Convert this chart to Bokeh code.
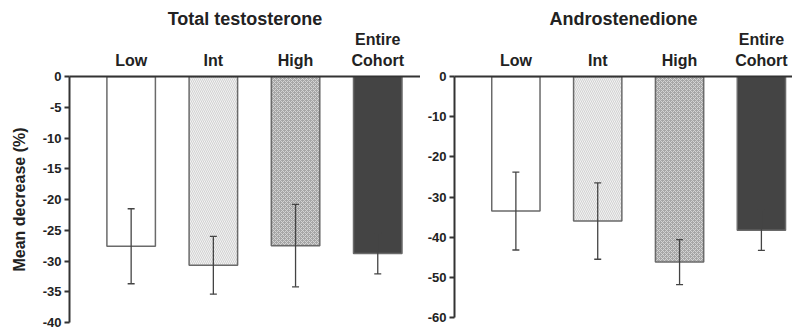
from bokeh.plotting import figure
from bokeh.models import Range1d, FixedTicker, ColumnDataSource, Whisker, TeeHead
from bokeh.layouts import row
from bokeh.embed import file_html
from bokeh.resources import INLINE

groups = ["Low", "Int", "High", "Entire\nCohort"]
testo_mean = [-27.6, -30.7, -27.5, -28.8]
testo_err = [6.1, 4.7, 6.7, 3.3]
andro_mean = [-33.5, -36.0, -46.2, -38.3]
andro_err = [9.7, 9.5, 5.6, 5.0]
testo_ticks = [0, -5, -10, -15, -20, -25, -30, -35, -40]
andro_ticks = [0, -10, -20, -30, -40, -50, -60]

fills = ["#ffffff", "#d2d2d2", "#a6a6a6", "#444444"]
hatches = [" ", "\\", "x", " "]
hatch_colors = ["#ffffff", "#f2f2f2", "#d4d4d4", "#444444"]

FONT = "Liberation Sans"


def panel(title, means, errs, yr, ticks, width, height, border_left, x_end):
    p = figure(width=width, height=height, output_backend="svg", toolbar_location=None,
               x_range=Range1d(-0.75, x_end), y_range=Range1d(yr, 0),
               x_axis_location="above", min_border_left=border_left, min_border_right=0,
               min_border_top=76, min_border_bottom=7)
    p.title.text = title
    p.title.align = "center"
    p.title.text_font = FONT
    p.title.text_font_size = "18px"
    p.title.text_font_style = "bold"
    p.title.text_color = "#222222"
    p.title.standoff = 0
    p.outline_line_color = None
    p.grid.visible = False
    xs = list(range(len(groups)))
    src = ColumnDataSource(dict(x=xs, top=[0] * len(xs), bottom=means,
                                fill=fills, hatch=hatches, hc=hatch_colors,
                                upper=[m + e for m, e in zip(means, errs)],
                                lower=[m - e for m, e in zip(means, errs)]))
    p.vbar(x="x", top="top", bottom="bottom", width=0.59, source=src,
           fill_color="fill", line_color="#6a6a6a", line_width=1.5,
           hatch_pattern="hatch", hatch_color="hc", hatch_scale=4, hatch_weight=1)
    w = Whisker(base="x", upper="upper", lower="lower", source=src,
                line_color="#444444", line_width=1.3, level="overlay",
                upper_head=TeeHead(size=7, line_color="#444444", line_width=1.3),
                lower_head=TeeHead(size=7, line_color="#444444", line_width=1.3))
    p.add_layout(w)
    xa = p.xaxis[0]
    xa.ticker = FixedTicker(ticks=xs)
    xa.major_label_overrides = {i: g for i, g in enumerate(groups)}
    xa.major_tick_in = 0
    xa.major_tick_out = 0
    xa.minor_tick_line_color = None
    xa.axis_line_width = 2
    xa.axis_line_color = "#333333"
    xa.major_label_text_font = FONT
    xa.major_label_text_font_size = "16px"
    xa.major_label_text_font_style = "bold"
    xa.major_label_text_color = "#222222"
    xa.major_label_standoff = 8
    ya = p.yaxis[0]
    ya.ticker = FixedTicker(ticks=ticks)
    ya.major_label_overrides = {t: str(t) for t in ticks}
    ya.major_tick_out = 5
    ya.major_tick_in = 0
    ya.minor_tick_line_color = None
    ya.axis_line_width = 2
    ya.axis_line_color = "#333333"
    ya.major_tick_line_width = 2
    ya.major_tick_line_color = "#333333"
    ya.major_label_text_font = FONT
    ya.major_label_text_font_size = "13px"
    ya.major_label_text_font_style = "bold"
    ya.major_label_text_color = "#222222"
    ya.major_label_standoff = 3
    return p


left = panel("Total testosterone", testo_mean, testo_err, -40, testo_ticks,
             420, 329, 69, 3.52)
left.yaxis[0].axis_label = "Mean decrease (%)"
left.yaxis[0].axis_label_text_font = FONT
left.yaxis[0].axis_label_text_font_size = "16px"
left.yaxis[0].axis_label_text_font_style = "bold"
left.yaxis[0].axis_label_text_color = "#222222"
left.yaxis[0].axis_label_standoff = 12

right = panel("Androstenedione", andro_mean, andro_err, -60, andro_ticks,
              372, 324, 34, 3.38)

layout = row(left, right, spacing=0)
open("out.html", "w").write(file_html(layout, INLINE))
